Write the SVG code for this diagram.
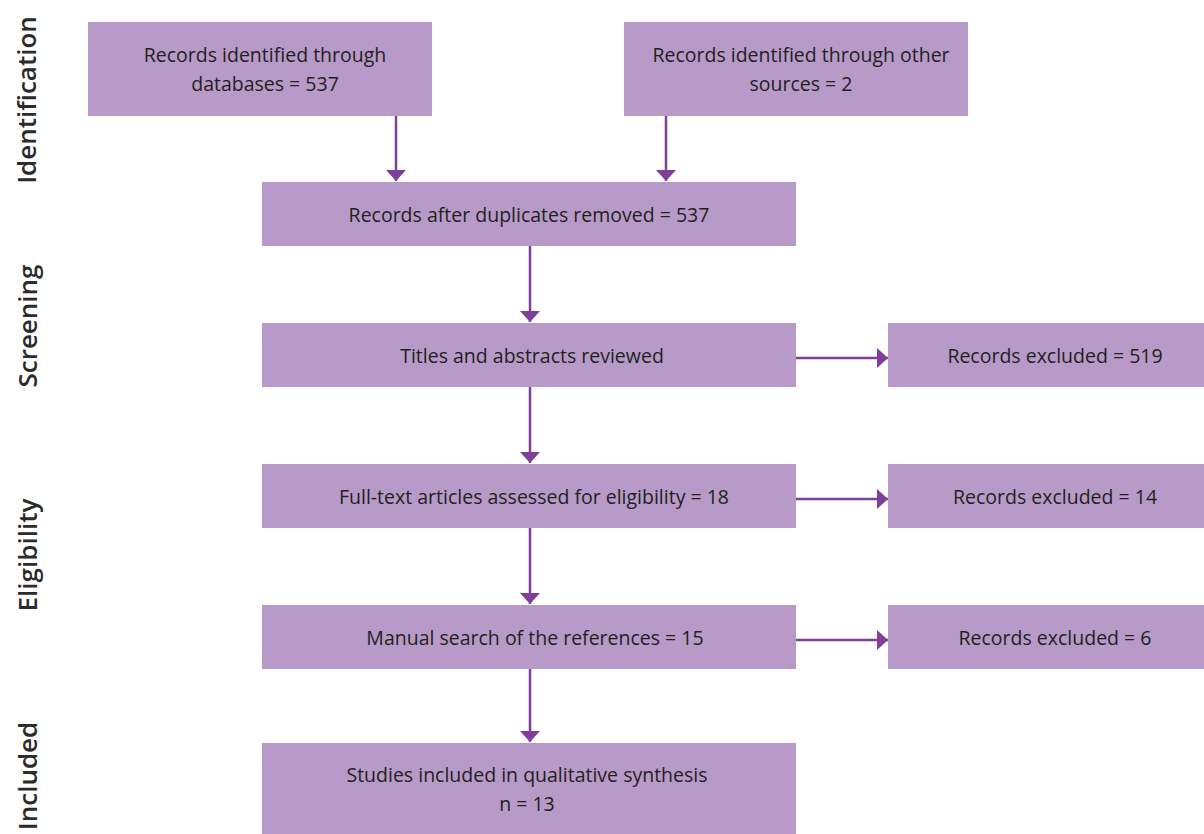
<svg xmlns="http://www.w3.org/2000/svg" width="1204" height="834" viewBox="0 0 1204 834">
<style>
.box{fill:#b79ac8}
.t{font-family:"Open Sans","Liberation Sans",sans-serif;font-size:19.5px;fill:#231f20;text-anchor:middle}
.side{font-family:"Open Sans","Liberation Sans",sans-serif;font-size:26px;font-weight:600;fill:#2b2b2b;text-anchor:middle}
.c{stroke:#7f3f98;stroke-width:2.5;fill:none}
</style>
<defs>
<marker id="ah2" viewBox="0 0 11 20" refX="11" refY="10" markerWidth="11" markerHeight="20" markerUnits="userSpaceOnUse" orient="auto"><path d="M0,0 L11,10 L0,20 Z" fill="#7f3f98"/></marker>
</defs>
<g id="labels">
<text class="side" transform="translate(36,100) rotate(-90)">Identification</text>
<text class="side" transform="translate(37,326) rotate(-90)">Screening</text>
<text class="side" transform="translate(37,555) rotate(-90)">Eligibility</text>
<text class="side" transform="translate(37,776) rotate(-90)">Included</text>
</g>
<g id="connectors">
<path class="c" d="M396,116 V181" marker-end="url(#ah2)"/>
<path class="c" d="M666,116 V181" marker-end="url(#ah2)"/>
<path class="c" d="M530,246 V322" marker-end="url(#ah2)"/>
<path class="c" d="M530,387 V463" marker-end="url(#ah2)"/>
<path class="c" d="M530,528 V604" marker-end="url(#ah2)"/>
<path class="c" d="M530,669 V742" marker-end="url(#ah2)"/>
<path class="c" d="M796,358 H888" marker-end="url(#ah2)"/>
<path class="c" d="M796,499 H888" marker-end="url(#ah2)"/>
<path class="c" d="M796,640 H888" marker-end="url(#ah2)"/>
</g>
<g id="n1"><rect class="box" x="88" y="22" width="344" height="94"/><text class="t" x="265" y="62">Records identified through</text><text class="t" x="265" y="91">databases = 537</text></g>
<g id="n2"><rect class="box" x="624" y="22" width="344" height="94"/><text class="t" x="801" y="62">Records identified through other</text><text class="t" x="801" y="91">sources = 2</text></g>
<g id="n3"><rect class="box" x="262" y="182" width="534" height="64"/><text class="t" x="529" y="222">Records after duplicates removed = 537</text></g>
<g id="n4"><rect class="box" x="262" y="323" width="534" height="64"/><text class="t" x="532" y="363">Titles and abstracts reviewed</text></g>
<g id="n5"><rect class="box" x="888" y="323" width="316" height="64"/><text class="t" x="1055" y="363">Records excluded = 519</text></g>
<g id="n6"><rect class="box" x="262" y="464" width="534" height="64"/><text class="t" x="534" y="504">Full-text articles assessed for eligibility = 18</text></g>
<g id="n7"><rect class="box" x="888" y="464" width="316" height="64"/><text class="t" x="1055" y="504">Records excluded = 14</text></g>
<g id="n8"><rect class="box" x="262" y="605" width="534" height="64"/><text class="t" x="535" y="645">Manual search of the references = 15</text></g>
<g id="n9"><rect class="box" x="888" y="605" width="316" height="64"/><text class="t" x="1055" y="645">Records excluded = 6</text></g>
<g id="n10"><rect class="box" x="262" y="743" width="534" height="91"/><text class="t" x="527" y="782">Studies included in qualitative synthesis</text><text class="t" x="527" y="811">n = 13</text></g>
</svg>
